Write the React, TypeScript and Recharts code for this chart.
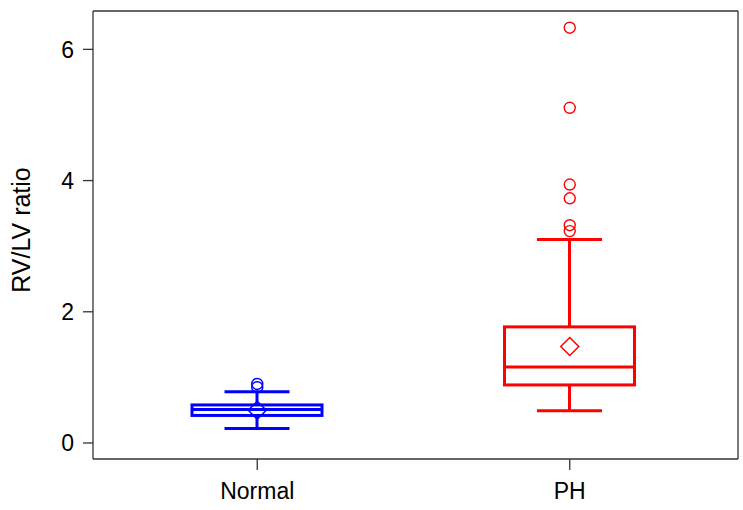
import React from "react";
import {
	Bar,
	CartesianGrid,
	ComposedChart,
	Scatter,
	XAxis,
	YAxis,
} from "recharts";

// values
const groups = ["Normal", "PH"];
const colors = ["#0000ff", "#ff0000"];
const lowerWhisker = [0.22, 0.49];
const q1 = [0.42, 0.885];
const median = [0.51, 1.16];
const q3 = [0.58, 1.77];
const upperWhisker = [0.78, 3.1];
const means = [0.5, 1.47];
const normalOutliers = [0.85, 0.9];
const phOutliers = [3.23, 3.32, 3.73, 3.94, 5.11, 6.33];
const yTicks = [0, 2, 4, 6];

const boxData = groups.map((name, i) => ({
	name,
	color: colors[i],
	lo: lowerWhisker[i],
	q1: q1[i],
	med: median[i],
	q3: q3[i],
	hi: upperWhisker[i],
}));

const meanData = groups.map((name, i) => ({ name, value: means[i], color: colors[i] }));
const normalPts = normalOutliers.map((value) => ({ name: "Normal", value }));
const phPts = phOutliers.map((value) => ({ name: "PH", value }));

const font = "'Liberation Sans', Arial, Helvetica, sans-serif";
const axisColor = "#333333";

function BoxShape(props: any) {
	const { x, y, width, height, payload } = props;
	const k = height / (payload.q3 - payload.q1);
	const yOf = (v: number) => y + (payload.q3 - v) * k;
	const cx = x + width / 2;
	const cap = width / 4;
	return (
		<g stroke={payload.color} strokeWidth={3} fill="none">
			<line x1={cx} x2={cx} y1={yOf(payload.hi)} y2={y} />
			<line x1={cx} x2={cx} y1={y + height} y2={yOf(payload.lo)} />
			<line x1={cx - cap} x2={cx + cap} y1={yOf(payload.hi)} y2={yOf(payload.hi)} />
			<line x1={cx - cap} x2={cx + cap} y1={yOf(payload.lo)} y2={yOf(payload.lo)} />
			<rect x={x} y={y} width={width} height={height} />
			<line x1={x} x2={x + width} y1={yOf(payload.med)} y2={yOf(payload.med)} />
		</g>
	);
}

function Diamond(props: any) {
	const { cx, cy, payload } = props;
	const r = 9;
	return (
		<polygon
			points={`${cx},${cy - r} ${cx + r},${cy} ${cx},${cy + r} ${cx - r},${cy}`}
			fill="none"
			stroke={payload.color}
			strokeWidth={1.5}
		/>
	);
}

const ring = (color: string) => (props: any) => (
	<circle cx={props.cx} cy={props.cy} r={5.5} fill="none" stroke={color} strokeWidth={1.4} />
);

export default function App() {
	return (
		<div style={{ width: 743, height: 510, background: "#fff" }}>
			<style>{`body{margin:0}`}</style>
			<ComposedChart
				width={743}
				height={510}
				data={boxData}
				margin={{ top: 11, right: 5, bottom: 0, left: 0 }}
			>
				{/* top and right edges of the plot frame */}
				<CartesianGrid
					stroke={axisColor}
					strokeWidth={1.3}
					horizontalCoordinatesGenerator={({ offset }: any) => [offset.top]}
					verticalCoordinatesGenerator={({ offset }: any) => [offset.left + offset.width]}
				/>
				<XAxis
					dataKey="name"
					type="category"
					allowDuplicatedCategory={false}
					padding={{ left: 8, right: 12 }}
					height={51}
					tickSize={11}
					tickMargin={13}
					stroke={axisColor}
					strokeWidth={1.3}
					tick={{ fill: "#000", fontSize: 23, fontFamily: font }}
				/>
				<YAxis
					type="number"
					domain={[-0.244, 6.585]}
					allowDataOverflow
					ticks={yTicks}
					width={93}
					tickSize={10}
					tickMargin={9}
					stroke={axisColor}
					strokeWidth={1.3}
					tick={{ fill: "#000", fontSize: 23, fontFamily: font }}
					label={{
						content: () => (
							<text
								x={21}
								y={230}
								transform="rotate(-90 21 230)"
								textAnchor="middle"
								dominantBaseline="central"
								fontSize={25}
								fontFamily={font}
								fill="#000"
							>
								RV/LV ratio
							</text>
						),
					}}
				/>
				<Bar
					dataKey={(d: any) => [d.q1, d.q3]}
					barSize={130}
					shape={BoxShape}
					isAnimationActive={false}
				/>
				<Scatter
					data={meanData}
					dataKey="value"
					shape={Diamond}
					isAnimationActive={false}
				/>
				<Scatter
					data={normalPts}
					dataKey="value"
					shape={ring(colors[0])}
					isAnimationActive={false}
				/>
				<Scatter
					data={phPts}
					dataKey="value"
					shape={ring(colors[1])}
					isAnimationActive={false}
				/>
			</ComposedChart>
		</div>
	);
}
